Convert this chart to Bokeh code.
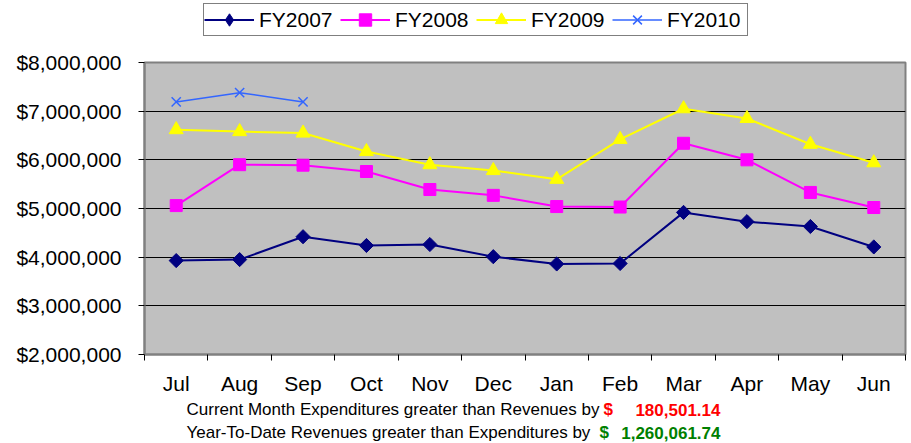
import math
from bokeh.plotting import figure
from bokeh.layouts import column
from bokeh.models import (Range1d, FixedTicker, NumeralTickFormatter, Legend, LegendItem)
from bokeh.core.properties import value
from bokeh.embed import file_html
from bokeh.resources import INLINE

months = ["Jul", "Aug", "Sep", "Oct", "Nov", "Dec", "Jan", "Feb", "Mar", "Apr", "May", "Jun"]
fy2007 = [3930000, 3950000, 4420000, 4240000, 4260000, 4010000, 3860000, 3870000, 4920000, 4730000, 4630000, 4210000]
fy2008 = [5060000, 5900000, 5890000, 5760000, 5390000, 5270000, 5040000, 5030000, 6340000, 6000000, 5330000, 5020000]
fy2009 = [6620000, 6580000, 6550000, 6170000, 5900000, 5780000, 5600000, 6420000, 7050000, 6850000, 6320000, 5940000]
fy2010 = [7190000, 7380000, 7190000]
series_names = ["FY2007", "FY2008", "FY2009", "FY2010"]
y_ticks = [2000000, 3000000, 4000000, 5000000, 6000000, 7000000, 8000000]
note_texts = ["Current Month Expenditures greater than Revenues by",
              "Year-To-Date Revenues greater than Expenditures by"]
note_amounts = ["180,501.14", "1,260,061.74"]
note_colors = ["#FF0000", "#008000"]

FONT = "Liberation Sans"
W = 907
LEFT, RIGHT = 144, 2

styles = [
    dict(color="#000080", marker="square", legend_marker="diamond", size=10, angle=math.pi / 4, lw=2),
    dict(color="#FF00FF", marker="square", legend_marker="square", size=12, angle=0.0, lw=2),
    dict(color="#FFFF00", marker="triangle", legend_marker="triangle", size=14, angle=0.0, lw=2),
    dict(color="#3366FF", marker="x", legend_marker="x", size=13, angle=0.0, lw=1.5),
]
all_series = [fy2007, fy2008, fy2009, fy2010]
xc = [i + 0.5 for i in range(len(months))]


def draw(fig, xs, ys, st, marker=None, angle=None):
    marker = marker or st["marker"]
    angle = st["angle"] if angle is None else angle
    r = fig.line(xs, ys, line_color=st["color"], line_width=st["lw"])
    if marker == "x":
        m = fig.scatter(xs, ys, marker="x", size=st["size"], line_color=st["color"], line_width=1.5)
    else:
        m = fig.scatter(xs, ys, marker=marker, size=st["size"], angle=angle,
                        fill_color=st["color"], line_color=st["color"])
    return [r, m]


# ---- legend strip (series drawn off-view, used only as legend samples) ----
t = figure(width=W, height=50, output_backend="svg", toolbar_location=None,
           x_range=Range1d(100, 101), y_range=Range1d(0, 1), x_axis_type=None, y_axis_type=None,
           min_border_left=LEFT, min_border_right=RIGHT, min_border_top=0, min_border_bottom=0)
t.outline_line_color = None
t.grid.visible = False
t.background_fill_color = "white"
t.border_fill_color = "white"
items = [LegendItem(label=n, renderers=draw(t, xc[:len(ys)], ys, st, st["legend_marker"], 0.0))
         for n, ys, st in zip(series_names, all_series, styles)]
legend = Legend(items=items, orientation="horizontal", location=(59, 14),
                label_text_font=FONT, label_text_font_size="21px", label_text_color="black",
                glyph_width=50, glyph_height=31, label_standoff=5, label_width=80, spacing=1,
                padding=0, margin=0, border_line_color="black", border_line_width=1,
                background_fill_color="white", background_fill_alpha=1.0)
t.add_layout(legend, "center")

# ---- main chart ----
p = figure(width=W, height=350, output_backend="svg", toolbar_location=None,
           x_range=Range1d(0, len(months)), y_range=Range1d(y_ticks[0], y_ticks[-1]),
           min_border_left=LEFT, min_border_right=RIGHT, min_border_top=12, min_border_bottom=46)
p.border_fill_color = "white"
p.background_fill_color = "#C0C0C0"
p.outline_line_color = "#808080"
p.outline_line_width = 2

xa = p.xaxis[0]
xa.ticker = FixedTicker(ticks=xc, minor_ticks=list(range(len(months) + 1)))
xa.major_label_overrides = {x: m for x, m in zip(xc, months)}
xa.major_tick_line_color = None
xa.major_tick_out = 6
xa.minor_tick_out = 6
xa.minor_tick_in = 0
xa.minor_tick_line_color = "black"
xa.axis_line_color = "#808080"
xa.axis_line_width = 2
xa.major_label_text_font = FONT
xa.major_label_text_font_size = "21px"
xa.major_label_text_color = "black"
xa.major_label_standoff = 11

ya = p.yaxis[0]
ya.ticker = FixedTicker(ticks=y_ticks, minor_ticks=[])
ya.formatter = NumeralTickFormatter(format="$0,0")
ya.major_tick_out = 6
ya.major_tick_in = 0
ya.major_tick_line_color = "black"
ya.minor_tick_line_color = None
ya.axis_line_color = "#808080"
ya.axis_line_width = 2
ya.major_label_text_font = FONT
ya.major_label_text_font_size = "21px"
ya.major_label_text_color = "black"
ya.major_label_standoff = 17

p.xgrid.grid_line_color = None
p.ygrid.ticker = FixedTicker(ticks=y_ticks)
p.ygrid.grid_line_color = "black"
p.ygrid.grid_line_width = 1

for ys, st in zip(all_series, styles):
    draw(p, xc[:len(ys)], ys, st)

# ---- notes strip (coordinates are page pixels) ----
H2 = 43
q = figure(width=W, height=H2, output_backend="svg", toolbar_location=None,
           x_range=Range1d(LEFT, W - RIGHT), y_range=Range1d(H2, 0),
           min_border_left=LEFT, min_border_right=RIGHT, min_border_top=0, min_border_bottom=0,
           x_axis_type=None, y_axis_type=None)
q.outline_line_color = None
q.grid.visible = False
q.background_fill_color = "white"
q.border_fill_color = "white"
rows_y = [9, 32]
q.text(x=[186, 186], y=rows_y, text=note_texts, text_font=value(FONT), text_font_size="17px",
       text_color="black", text_baseline="middle", text_align="left")
q.text(x=[603, 599], y=rows_y, text=["$", "$"], text_font=value(FONT), text_font_size="17px",
       text_color=note_colors, text_font_style="bold", text_baseline="middle", text_align="left")
q.text(x=[720, 720], y=rows_y, text=note_amounts, text_font=value(FONT), text_font_size="17px",
       text_color=note_colors, text_font_style="bold", text_baseline="middle", text_align="right")

layout = column(t, p, q, spacing=0)
open("out.html", "w").write(file_html(layout, INLINE))
